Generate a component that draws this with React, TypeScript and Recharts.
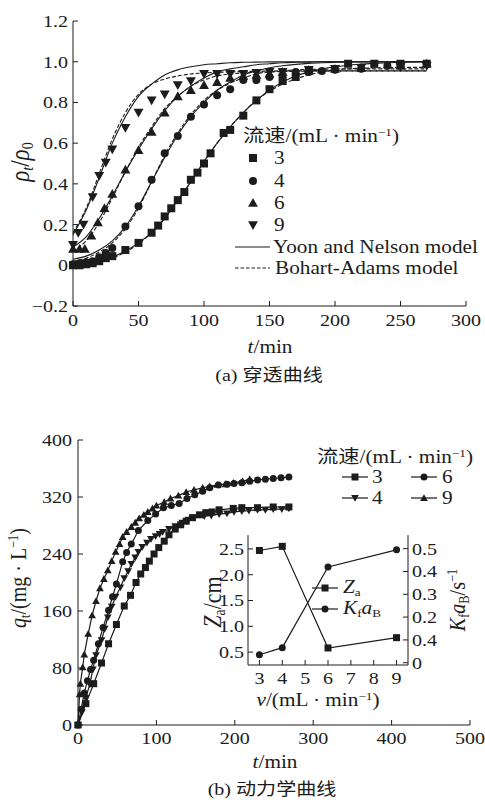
import React from "react";
import { ComposedChart, LineChart, Line, XAxis, YAxis } from "recharts";

const INK = "#1c1c1c";
const SERIF = '"Liberation Serif", "Times New Roman", serif';
const MIX = '"Liberation Serif", "Noto Sans CJK SC", serif';
const SX = 1.18;

// ---- (a) breakthrough curves, measured points (t/min, rho_t/rho_0) ----
const T3 = [0, 5, 10, 15, 20, 25, 30, 40, 50, 60, 65, 70, 75, 80, 85, 90, 95, 100, 105, 115, 120, 130, 140, 150, 160, 170, 180, 210, 230, 250, 270];
const V3 = [0, 0, 0.005, 0.01, 0.02, 0.035, 0.045, 0.075, 0.11, 0.16, 0.195, 0.24, 0.28, 0.32, 0.36, 0.42, 0.455, 0.5, 0.55, 0.65, 0.665, 0.735, 0.81, 0.865, 0.905, 0.925, 0.955, 0.99, 0.99, 0.99, 0.99];
const T4 = [0, 5, 10, 15, 20, 25, 30, 40, 50, 60, 70, 80, 90, 100, 110, 120, 130, 140, 150, 160, 170, 180, 190, 200, 220, 240, 250, 270];
const V4 = [0.005, 0.01, 0.015, 0.02, 0.04, 0.06, 0.085, 0.19, 0.29, 0.42, 0.55, 0.635, 0.73, 0.79, 0.835, 0.865, 0.91, 0.91, 0.925, 0.93, 0.95, 0.95, 0.955, 0.96, 0.965, 0.98, 0.985, 0.99];
const T6 = [0, 5, 9, 14, 19, 24, 30, 40, 50, 60, 70, 80, 90, 100, 110, 120, 130, 140, 150, 160, 180, 200, 220, 250, 270];
const V6 = [0.08, 0.08, 0.08, 0.145, 0.21, 0.28, 0.35, 0.47, 0.565, 0.655, 0.75, 0.83, 0.86, 0.885, 0.9, 0.92, 0.93, 0.935, 0.94, 0.95, 0.96, 0.965, 0.97, 0.98, 0.99];
const T9 = [0, 4, 8, 15, 20, 25, 30, 40, 50, 60, 70, 80, 90, 100, 110, 120, 130, 140, 150, 160, 180, 200, 220, 250, 270];
const V9 = [0.1, 0.16, 0.2, 0.335, 0.44, 0.505, 0.57, 0.675, 0.75, 0.81, 0.84, 0.885, 0.905, 0.94, 0.94, 0.94, 0.94, 0.945, 0.95, 0.95, 0.96, 0.965, 0.97, 0.975, 0.98];

// model curves every 10 min
const MT = [0, 10, 20, 30, 40, 50, 60, 70, 80, 90, 100, 110, 120, 130, 140, 150, 160, 170, 180, 190, 200, 210, 220, 230, 240, 250, 260, 270];
const YN9 = [0.15, 0.27, 0.43, 0.6, 0.73, 0.83, 0.89, 0.935, 0.96, 0.975, 0.985, 0.99, 0.995, 0.997, 0.998, 0.999, 1, 1, 1, 1, 1, 1, 1, 1, 1, 1, 1, 1];
const BA9 = [0.16, 0.28, 0.45, 0.62, 0.75, 0.84, 0.89, 0.915, 0.93, 0.94, 0.945, 0.948, 0.95, 0.952, 0.953, 0.954, 0.955, 0.955, 0.955, 0.955, 0.955, 0.955, 0.955, 0.955, 0.955, 0.955, 0.955, 0.955];
const YN6 = [0.09, 0.14, 0.23, 0.34, 0.46, 0.57, 0.67, 0.76, 0.83, 0.88, 0.92, 0.95, 0.965, 0.975, 0.985, 0.99, 0.995, 0.997, 0.998, 1, 1, 1, 1, 1, 1, 1, 1, 1];
const BA6 = [0.07, 0.12, 0.21, 0.33, 0.46, 0.58, 0.68, 0.77, 0.83, 0.88, 0.91, 0.93, 0.94, 0.945, 0.948, 0.95, 0.952, 0.953, 0.954, 0.955, 0.955, 0.955, 0.955, 0.955, 0.955, 0.955, 0.955, 0.955];
const YN4 = [0.03, 0.045, 0.075, 0.12, 0.19, 0.29, 0.41, 0.53, 0.64, 0.73, 0.8, 0.86, 0.9, 0.935, 0.955, 0.97, 0.98, 0.987, 0.992, 0.995, 0.997, 0.998, 0.999, 1, 1, 1, 1, 1];
const BA4 = [0.02, 0.035, 0.065, 0.11, 0.18, 0.28, 0.41, 0.54, 0.65, 0.74, 0.81, 0.86, 0.895, 0.92, 0.94, 0.95, 0.955, 0.96, 0.962, 0.963, 0.964, 0.965, 0.965, 0.965, 0.965, 0.965, 0.965, 0.965];
const YN3 = [0, 0.01, 0.02, 0.04, 0.07, 0.11, 0.16, 0.23, 0.32, 0.41, 0.51, 0.6, 0.68, 0.75, 0.81, 0.86, 0.9, 0.93, 0.95, 0.965, 0.975, 0.983, 0.988, 0.992, 0.995, 0.997, 0.999, 1];
const BA3 = [0, 0.005, 0.015, 0.035, 0.065, 0.105, 0.16, 0.23, 0.32, 0.41, 0.51, 0.6, 0.68, 0.75, 0.81, 0.855, 0.89, 0.915, 0.935, 0.95, 0.96, 0.965, 0.968, 0.97, 0.971, 0.972, 0.972, 0.972];

const A_XTICKS = [0, 50, 100, 150, 200, 250, 300];
const A_YTICKS = [-0.2, 0, 0.2, 0.4, 0.6, 0.8, 1.0, 1.2];

// ---- (b) kinetics (t/min, q_t/(mg/L)) ----
const B3_T = [0, 10, 20, 30, 39, 49, 59, 67, 74, 80, 86, 91, 97, 103, 110, 116, 124, 131, 138, 146, 155, 163, 171, 180, 198, 209, 229, 249, 269];
const B3_Q = [0, 30, 58, 87, 114, 141, 167, 182, 200, 212, 221, 230, 240, 249, 258, 267, 275, 281, 286, 291, 295, 298, 299, 302, 304, 305, 305, 306, 306];
const B4_T = [0, 5, 10, 15, 19, 23, 30, 34, 38, 43, 48, 54, 59, 64, 68, 73, 77, 82, 88, 93, 99, 104, 108, 116, 124, 133, 141, 148, 161, 170, 180, 190, 199, 209, 218, 229, 239, 249, 260, 269];
const B4_Q = [0, 18, 38, 57, 78, 98, 119, 135, 151, 166, 180, 193, 206, 216, 226, 235, 243, 250, 256, 261, 265, 268, 271, 275, 279, 284, 288, 291, 293, 294, 296, 297, 299, 300, 301, 302, 302, 303, 303, 304];
const B6_T = [0, 4, 8, 12, 16, 20, 26, 32, 39, 44, 49, 57, 62, 68, 77, 89, 99, 109, 119, 129, 139, 149, 159, 168, 179, 190, 199, 209, 219, 229, 239, 249, 259, 269];
const B6_Q = [0, 22, 45, 62, 78, 91, 114, 137, 161, 180, 198, 229, 242, 254, 273, 287, 296, 305, 308, 311, 318, 323, 328, 333, 337, 338, 339, 340, 342, 344, 345, 346, 347, 348];
const B9_T = [0, 2, 3, 6, 8, 13, 18, 23, 28, 33, 38, 43, 48, 53, 57, 62, 68, 73, 78, 84, 89, 95, 100, 110, 118, 128, 138, 148, 159, 168, 178, 188, 198, 210, 219];
const B9_Q = [0, 43, 58, 81, 99, 128, 154, 174, 192, 205, 217, 230, 243, 254, 264, 271, 278, 284, 290, 295, 299, 304, 308, 313, 318, 322, 327, 330, 333, 335, 337, 338, 340, 342, 345];

const B_XTICKS = [0, 100, 200, 300, 400, 500];
const B_YTICKS = [0, 80, 160, 240, 320, 400];

// inset: bed parameters vs flow rate
const RATE = [3, 4, 6, 9];
const ZA = [2.47, 2.55, 0.58, 0.78];
const KFAB = [0.035, 0.066, 0.42, 0.495];
const IN_XTICKS = [3, 4, 5, 6, 7, 8, 9];
const IN_LTICKS = [0.5, 1.0, 1.5, 2.0, 2.5];
const IN_RTICKS = [0, 0.1, 0.2, 0.3, 0.4, 0.5];
const IN_RLABELS = ["0", "0.4", "0.2", "0.3", "0.4", "0.5"];

const zip = (xs: number[], ys: number[], k = "v") => xs.map((x, i) => ({ t: x, [k]: ys[i] }));

type Shape = "square" | "circle" | "up" | "down";

function Mark({ cx, cy, shape, s }: { cx?: number; cy?: number; shape: Shape; s: number }) {
  if (cx == null || cy == null) return null;
  const h = s / 2;
  if (shape === "square") return <rect x={cx - h} y={cy - h} width={s} height={s} fill={INK} />;
  if (shape === "circle") return <circle cx={cx} cy={cy} r={h} fill={INK} />;
  const w = h * 1.1;
  if (shape === "up")
    return <path d={`M${cx},${cy - h * 1.1}L${cx + w},${cy + h * 0.85}L${cx - w},${cy + h * 0.85}Z`} fill={INK} />;
  return <path d={`M${cx},${cy + h * 1.1}L${cx + w},${cy - h * 0.85}L${cx - w},${cy - h * 0.85}Z`} fill={INK} />;
}

const dotOf = (shape: Shape, s: number) => (p: any) => (
  <Mark key={`${shape}-${p.index}`} cx={p.cx} cy={p.cy} shape={shape} s={s} />
);

function Tick(props: any) {
  const { x, y, payload, anchor, dx = 0, dy = 0, fmt, size = 17 } = props;
  return (
    <g transform={`translate(${x + dx},${y + dy}) scale(${SX},1)`}>
      <text textAnchor={anchor} dominantBaseline="central" fontSize={size} fontFamily={SERIF} fill={INK}>
        {fmt ? fmt(payload.value) : payload.value}
      </text>
    </g>
  );
}

const Sub = ({ children }: any) => (
  <span style={{ fontSize: "0.62em", verticalAlign: "-0.28em" }}>{children}</span>
);
const Sup = ({ children }: any) => (
  <span style={{ fontSize: "0.62em", verticalAlign: "0.55em" }}>{children}</span>
);
const I = ({ children }: any) => <span style={{ fontStyle: "italic" }}>{children}</span>;

function Txt({ x, y, children, anchor = "middle", size = 17, rot = 0 }: any) {
  const tx = anchor === "start" ? "0%" : anchor === "end" ? "-100%" : "-50%";
  const origin = anchor === "start" ? "left center" : anchor === "end" ? "right center" : "center";
  return (
    <div style={{ position: "absolute", left: x, top: y, width: 0, height: 0 }}>
      <div
        style={{
          position: "absolute",
          left: 0,
          top: 0,
          transform: `translate(${tx},-50%)`,
          whiteSpace: "nowrap",
          lineHeight: 1,
          fontSize: size,
          fontFamily: MIX,
          color: INK,
        }}
      >
        <div style={{ transform: `scaleX(${SX}) rotate(${rot}deg)`, transformOrigin: origin }}>{children}</div>
      </div>
    </div>
  );
}

function Icon({ x, y, shape, w = 12, line = false, dash = false, s = 8 }: any) {
  return (
    <svg width={w} height={14} style={{ position: "absolute", left: x - w / 2, top: y - 7 }}>
      {line && (
        <line x1={0} x2={w} y1={7} y2={7} stroke={INK} strokeWidth={1.2} strokeDasharray={dash ? "3.5 2" : undefined} />
      )}
      {shape && <Mark cx={w / 2} cy={7} shape={shape} s={s} />}
    </svg>
  );
}

const axisCommon = {
  stroke: INK,
  tickLine: { stroke: INK },
  tickSize: -5,
  tickMargin: 5,
  interval: 0 as const,
};

const fmtA = (v: number) => (v === 0 ? "0" : v < 0 ? `\u2212${Math.abs(v).toFixed(1)}` : v.toFixed(1));

function TopChart() {
  const pts: [number[], number[], Shape][] = [
    [T3, V3, "square"],
    [T4, V4, "circle"],
    [T6, V6, "up"],
    [T9, V9, "down"],
  ];
  const models = [YN3, YN4, YN6, YN9];
  const dashed = [BA3, BA4, BA6, BA9];
  return (
    <ComposedChart width={485} height={340} margin={{ top: 21, right: 19, bottom: 10, left: 0 }}>
      <XAxis
        {...axisCommon}
        type="number"
        dataKey="t"
        domain={[0, 300]}
        ticks={A_XTICKS}
        height={24}
        tick={<Tick anchor="middle" dy={14} />}
      />
      <YAxis
        {...axisCommon}
        type="number"
        dataKey="v"
        domain={[-0.2, 1.2]}
        ticks={A_YTICKS}
        width={73}
        tick={<Tick anchor="end" dx={-5} fmt={fmtA} />}
      />
      {models.map((m, i) => (
        <Line
          key={`yn${i}`}
          data={zip(MT, m)}
          dataKey="v"
          type="monotone"
          stroke={INK}
          strokeWidth={1.1}
          dot={false}
          activeDot={false}
          isAnimationActive={false}
        />
      ))}
      {dashed.map((m, i) => (
        <Line
          key={`ba${i}`}
          data={zip(MT, m)}
          dataKey="v"
          type="monotone"
          stroke={INK}
          strokeWidth={1.1}
          strokeDasharray="4 2"
          dot={false}
          activeDot={false}
          isAnimationActive={false}
        />
      ))}
      {pts.map(([t, v, sh]) => (
        <Line
          key={sh}
          data={zip(t, v)}
          dataKey="v"
          stroke="none"
          dot={dotOf(sh, sh === "square" || sh === "circle" ? 8 : 9)}
          activeDot={false}
          isAnimationActive={false}
        />
      ))}
    </ComposedChart>
  );
}

function BottomChart() {
  const series: [number[], number[], Shape][] = [
    [B3_T, B3_Q, "square"],
    [B4_T, B4_Q, "down"],
    [B6_T, B6_Q, "circle"],
    [B9_T, B9_Q, "up"],
  ];
  return (
    <ComposedChart width={485} height={360} margin={{ top: 40, right: 15, bottom: 10, left: 0 }}>
      <XAxis
        {...axisCommon}
        type="number"
        dataKey="t"
        domain={[0, 500]}
        ticks={B_XTICKS}
        height={25}
        tick={<Tick anchor="middle" dy={13} />}
      />
      <YAxis
        {...axisCommon}
        type="number"
        dataKey="q"
        domain={[0, 400]}
        ticks={B_YTICKS}
        width={78}
        tick={<Tick anchor="end" dx={-6} />}
      />
      {series.map(([t, q, sh]) => (
        <Line
          key={sh}
          data={zip(t, q, "q")}
          dataKey="q"
          type="linear"
          stroke={INK}
          strokeWidth={1.2}
          dot={dotOf(sh, 7)}
          activeDot={false}
          isAnimationActive={false}
        />
      ))}
    </ComposedChart>
  );
}

function Inset() {
  const data = RATE.map((r, i) => ({ r, za: ZA[i], k: KFAB[i] }));
  return (
    <LineChart width={300} height={200} data={data} margin={{ top: 15, right: 0, bottom: 35, left: 0 }}>
      <XAxis
        {...axisCommon}
        type="number"
        dataKey="r"
        domain={[2.5, 9.5]}
        ticks={IN_XTICKS}
        height={20}
        tick={<Tick anchor="middle" dy={13} />}
      />
      <YAxis
        {...axisCommon}
        yAxisId="l"
        type="number"
        domain={[0.25, 2.77]}
        ticks={IN_LTICKS}
        width={68}
        tick={<Tick anchor="end" dx={-4} fmt={(v: number) => v.toFixed(1)} />}
      />
      <YAxis
        {...axisCommon}
        yAxisId="r"
        orientation="right"
        type="number"
        domain={[-0.01, 0.56]}
        ticks={IN_RTICKS}
        width={72}
        tick={<Tick anchor="start" dx={4} fmt={(v: number) => IN_RLABELS[IN_RTICKS.indexOf(v)] ?? String(v)} />}
      />
      <Line
        yAxisId="l"
        dataKey="za"
        type="linear"
        stroke={INK}
        strokeWidth={1.2}
        dot={dotOf("square", 7)}
        activeDot={false}
        isAnimationActive={false}
      />
      <Line
        yAxisId="r"
        dataKey="k"
        type="linear"
        stroke={INK}
        strokeWidth={1.2}
        dot={dotOf("circle", 7)}
        activeDot={false}
        isAnimationActive={false}
      />
    </LineChart>
  );
}

export default function App() {
  return (
    <div style={{ position: "absolute", left: 0, top: 0, width: 485, height: 802, background: "#fff", overflow: "hidden" }}>
      <div style={{ position: "absolute", left: 0, top: 0 }}>
        <TopChart />
      </div>
      <div style={{ position: "absolute", left: 0, top: 400 }}>
        <BottomChart />
      </div>
      <div style={{ position: "absolute", left: 180, top: 520 }}>
        <Inset />
      </div>

      {/* (a) labels */}
      <Txt x={21} y={162} rot={-90} size={23}>
        <I>ρ</I>
        <Sub>
          <I>t</I>
        </Sub>
        /<I>ρ</I>
        <Sub>0</Sub>
      </Txt>
      <Txt x={270} y={347} size={18}>
        <I>t</I>/min
      </Txt>
      <Txt x={269} y={375}>
        (a) 穿透曲线
      </Txt>
      <Txt x={243} y={136} anchor="start" size={18}>
        流速/(mL · min<Sup>−1</Sup>)
      </Txt>
      <Icon x={253} y={158} shape="square" />
      <Icon x={253} y={181} shape="circle" />
      <Icon x={253} y={203} shape="up" s={9} />
      <Icon x={253} y={225} shape="down" s={9} />
      <Txt x={274} y={158} anchor="start" size={18}>3</Txt>
      <Txt x={274} y={181} anchor="start" size={18}>4</Txt>
      <Txt x={274} y={203} anchor="start" size={18}>6</Txt>
      <Txt x={274} y={225} anchor="start" size={18}>9</Txt>
      <Icon x={252} y={247} w={35} line />
      <Icon x={252} y={268} w={35} line dash />
      <Txt x={273} y={247} anchor="start" size={18}>Yoon and Nelson model</Txt>
      <Txt x={275} y={268} anchor="start" size={18}>Bohart-Adams model</Txt>

      {/* (b) labels */}
      <Txt x={19} y={578} rot={-90} size={20}>
        <I>q</I>
        <Sub>t</Sub>/(mg · L<Sup>−1</Sup>)
      </Txt>
      <Txt x={275} y={762} size={18}>
        <I>t</I>/min
      </Txt>
      <Txt x={272} y={789}>
        (b) 动力学曲线
      </Txt>
      <Txt x={317} y={457} anchor="start" size={18}>
        流速/(mL · min<Sup>−1</Sup>)
      </Txt>
      <Icon x={355} y={477} w={26} line shape="square" s={7} />
      <Icon x={424} y={477} w={26} line shape="circle" s={7} />
      <Icon x={355} y={498} w={26} line shape="down" s={7} />
      <Icon x={424} y={498} w={26} line shape="up" s={7} />
      <Txt x={372} y={477} anchor="start" size={18}>3</Txt>
      <Txt x={442} y={477} anchor="start" size={18}>6</Txt>
      <Txt x={372} y={498} anchor="start" size={18}>4</Txt>
      <Txt x={442} y={498} anchor="start" size={18}>9</Txt>

      {/* inset labels */}
      <Txt x={214} y={602} rot={-90} size={22}>
        <I>Z</I>
        <Sub>a</Sub>/cm
      </Txt>
      <Txt x={458} y={600} rot={-90} size={20}>
        <I>K</I>
        <Sub>f</Sub>
        <I>a</I>
        <Sub>B</Sub>/s<Sup>−1</Sup>
      </Txt>
      <Txt x={318} y={700} size={18}>
        <I>v</I>/(mL · min<Sup>−1</Sup>)
      </Txt>
      <Icon x={325} y={588} w={26} line shape="square" s={7} />
      <Icon x={325} y={609} w={26} line shape="circle" s={7} />
      <Txt x={343} y={588} anchor="start" size={18}>
        <I>Z</I>
        <Sub>a</Sub>
      </Txt>
      <Txt x={343} y={609} anchor="start" size={18}>
        <I>K</I>
        <Sub>f</Sub>
        <I>a</I>
        <Sub>B</Sub>
      </Txt>
    </div>
  );
}
